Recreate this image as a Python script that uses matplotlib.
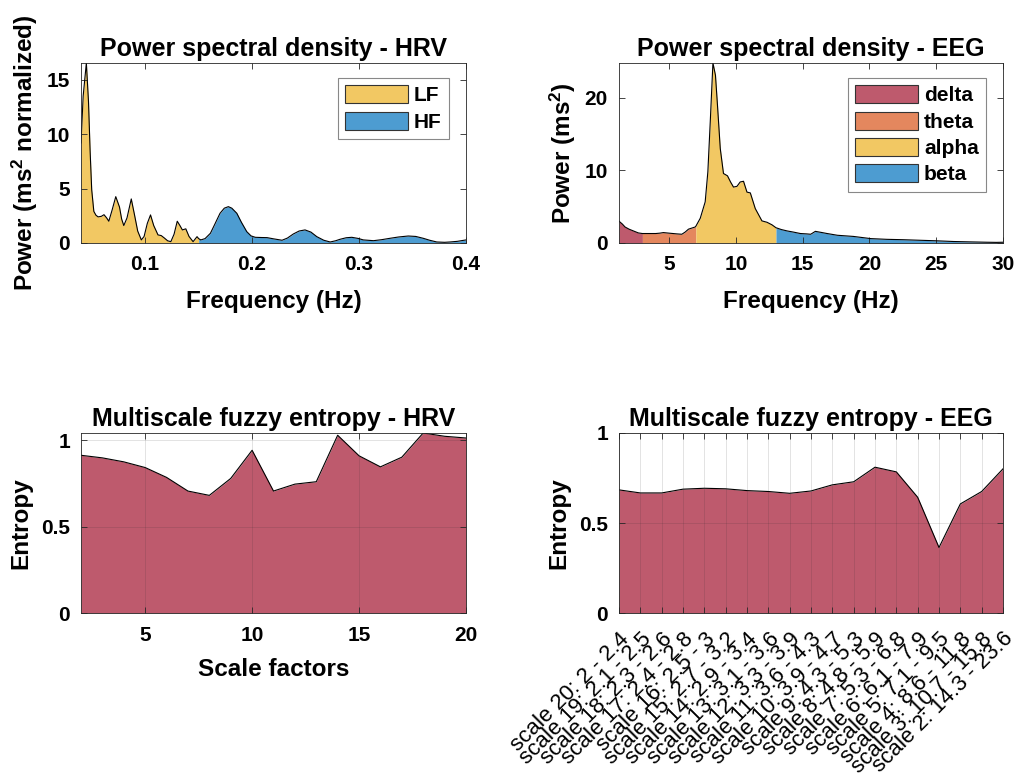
import numpy as np
import matplotlib
matplotlib.use("Agg")
import matplotlib.pyplot as plt
from matplotlib.patches import Patch

plt.rcParams['font.family'] = ['Liberation Sans', 'DejaVu Sans']
plt.rcParams['font.weight'] = 'bold'
plt.rcParams['axes.labelweight'] = 'bold'
plt.rcParams['axes.titleweight'] = 'bold'
plt.rcParams['mathtext.fontset'] = 'custom'
plt.rcParams['mathtext.rm'] = 'Liberation Sans:bold'
plt.rcParams['mathtext.default'] = 'rm'

# HRV power spectrum
hrv_freq = [0.040, 0.042, 0.045, 0.047, 0.0485, 0.050, 0.052, 0.054, 0.056, 0.059,
            0.0615, 0.064, 0.066, 0.069, 0.0725, 0.076, 0.078, 0.080, 0.083, 0.087,
            0.090, 0.093, 0.0964, 0.099, 0.102, 0.105, 0.108, 0.112, 0.115, 0.118,
            0.121, 0.124, 0.127, 0.130, 0.1325, 0.1348, 0.138, 0.141, 0.1448, 0.1485,
            0.150, 0.152, 0.156, 0.161, 0.165, 0.170, 0.174, 0.1778, 0.181, 0.1857,
            0.190, 0.195, 0.199, 0.203, 0.209, 0.214, 0.220, 0.228, 0.233, 0.2386,
            0.244, 0.2495, 0.255, 0.2605, 0.267, 0.273, 0.278, 0.2823, 0.288, 0.2932,
            0.299, 0.304, 0.3135, 0.321, 0.329, 0.337, 0.346, 0.353, 0.360, 0.366,
            0.3727, 0.380, 0.385, 0.392, 0.400]
hrv_power = [9.2, 13.5, 16.56, 13.0, 8.5, 4.9, 2.9, 2.55, 2.4, 2.45,
             2.6, 2.3, 2.0, 3.0, 4.26, 3.3, 2.2, 1.6, 2.3, 4.05,
             2.6, 1.1, 0.28, 0.6, 1.8, 2.58, 1.6, 0.74, 0.68, 0.45,
             0.2, 0.12, 0.8, 2.0, 1.6, 1.2, 1.3, 0.6, 0.12, 0.58,
             0.4, 0.28, 0.4, 0.89, 1.7, 2.73, 3.2, 3.34, 3.2, 2.73,
             1.9, 1.04, 0.65, 0.52, 0.5, 0.49, 0.38, 0.25, 0.45, 0.83,
             1.1, 1.2, 1.0, 0.58, 0.25, 0.09, 0.2, 0.34, 0.48, 0.52,
             0.42, 0.28, 0.21, 0.3, 0.43, 0.55, 0.64, 0.6, 0.43, 0.25,
             0.09, 0.06, 0.09, 0.15, 0.28]
hrv_bands = [('LF', 0.04, 0.15, '#F2C863'), ('HF', 0.15, 0.40, '#4D9CD1')]

# EEG power spectrum
eeg_freq = [1.25, 1.5, 1.7, 2.0, 2.32, 2.7, 3.0, 3.5, 4.0, 4.3,
            4.57, 5.0, 5.58, 5.95, 6.2, 6.45, 6.95, 7.0, 7.33, 7.7,
            7.9, 8.08, 8.28, 8.47, 8.62, 8.83, 9.07, 9.37, 9.6, 9.82,
            10.08, 10.32, 10.57, 10.83, 11.08, 11.45, 11.95, 12.33, 12.7, 13.0,
            13.4, 13.83, 14.3, 14.83, 15.3, 15.6, 15.95, 16.4, 16.83, 17.6,
            18.8, 20.1, 21.3, 22.5, 23.8, 25.0, 26.3, 27.5, 28.8, 29.5, 30.0]
eeg_power = [3.0, 2.6, 2.2, 1.9, 1.66, 1.38, 1.3, 1.3, 1.3, 1.35,
             1.43, 1.35, 1.25, 1.2, 1.5, 1.9, 2.2, 2.3, 3.4, 5.66,
             9.8, 16.7, 24.8, 23.1, 19.0, 13.0, 9.57, 9.25, 8.4, 7.7,
             7.8, 8.4, 8.5, 7.0, 6.9, 4.74, 3.04, 2.85, 2.5, 2.1,
             1.85, 1.66, 1.5, 1.3, 1.25, 1.2, 1.6, 1.45, 1.3, 1.06,
             0.9, 0.6, 0.5, 0.45, 0.37, 0.3, 0.2, 0.15, 0.1, 0.08, 0.1]
eeg_bands = [('delta', 1.25, 3, '#BE5A6D'), ('theta', 3, 7, '#E4875E'),
             ('alpha', 7, 13, '#F2C863'), ('beta', 13, 30, '#4D9CD1')]

# multiscale fuzzy entropy
hrv_scales = list(range(2, 21))
hrv_mfe = [0.913, 0.898, 0.875, 0.842, 0.785, 0.706, 0.681, 0.779, 0.942, 0.706,
           0.746, 0.760, 1.029, 0.910, 0.846, 0.902, 1.042, 1.023, 1.013]

eeg_scale_labels = ['scale 20: 2 - 2.4', 'scale 19: 2.1 - 2.5', 'scale 18: 2.3 - 2.6',
                    'scale 17: 2.4 - 2.8', 'scale 16: 2.5 - 3', 'scale 15: 2.7 - 3.2',
                    'scale 14: 2.9 - 3.4', 'scale 13: 3.1 - 3.6', 'scale 12: 3.3 - 3.9',
                    'scale 11: 3.6 - 4.3', 'scale 10: 3.9 - 4.7', 'scale 9: 4.3 - 5.3',
                    'scale 8: 4.8 - 5.9', 'scale 7: 5.3 - 6.8', 'scale 6: 6.1 - 7.9',
                    'scale 5: 7.1 - 9.5', 'scale 4: 8.6 - 11.8', 'scale 3: 10.7 - 15.8',
                    'scale 2: 14.3 - 23.6']
eeg_mfe = [0.684, 0.667, 0.667, 0.688, 0.693, 0.690, 0.680, 0.675, 0.665, 0.678,
           0.712, 0.729, 0.810, 0.784, 0.643, 0.364, 0.606, 0.675, 0.801]

mfe_color = '#BE5A6D'
TICK = 15
LABEL = 17.5
TITLE = 18


def style_axes(ax):
    ax.tick_params(direction='in', length=4, top=True, right=True,
                   labelsize=TICK, color='#262626', width=0.6)
    ax.tick_params(axis='x', pad=9)
    ax.tick_params(axis='y', pad=8)
    for s in ax.spines.values():
        s.set_color('#262626')
        s.set_linewidth(0.6)


def band_psd(ax, freq, power, bands):
    f = np.array(freq)
    p = np.array(power)
    handles = []
    for name, lo, hi, col in bands:
        m = (f >= lo) & (f <= hi)
        ax.fill_between(f[m], 0, p[m], color=col, lw=0)
        handles.append(Patch(facecolor=col, edgecolor='#333333', lw=0.8, label=name))
    ax.plot(f, p, color='black', lw=0.8)
    return handles


def add_legend(ax, handles):
    leg = ax.legend(handles=handles, loc='upper right', fontsize=TICK, handlelength=3.0,
                    handleheight=0.95, labelspacing=0.3, borderpad=0.35,
                    handletextpad=0.3, borderaxespad=0, fancybox=False,
                    edgecolor='#888888', framealpha=1, bbox_to_anchor=(0.956, 0.917))
    leg.get_frame().set_linewidth(0.8)


fig = plt.figure(figsize=(10.19, 7.75), dpi=100)

# PSD - HRV
ax1 = fig.add_axes([0.0795, 0.6865, 0.3778, 0.2323])
h = band_psd(ax1, hrv_freq, hrv_power, hrv_bands)
ax1.set_xlim(0.04, 0.4)
ax1.set_ylim(0, max(hrv_power))
ax1.set_xticks([0.1, 0.2, 0.3, 0.4])
ax1.set_xticklabels(['0.1', '0.2', '0.3', '0.4'])
ax1.set_yticks([0, 5, 10, 15])
ax1.set_title('Power spectral density - HRV', fontsize=TITLE, pad=5)
ax1.set_xlabel('Frequency (Hz)', fontsize=LABEL, labelpad=11)
ax1.set_ylabel('Power (ms$^2$ normalized)', fontsize=LABEL, labelpad=5)
add_legend(ax1, h)
style_axes(ax1)

# PSD - EEG
ax2 = fig.add_axes([0.6075, 0.6865, 0.3768, 0.2323])
h = band_psd(ax2, eeg_freq, eeg_power, eeg_bands)
ax2.set_xlim(1.25, 30)
ax2.set_ylim(0, max(eeg_power))
ax2.set_xticks([5, 10, 15, 20, 25, 30])
ax2.set_yticks([0, 10, 20])
ax2.set_title('Power spectral density - EEG', fontsize=TITLE, pad=5)
ax2.set_xlabel('Frequency (Hz)', fontsize=LABEL, labelpad=11)
ax2.set_ylabel('Power (ms$^2$)', fontsize=LABEL, labelpad=5)
add_legend(ax2, h)
style_axes(ax2)

# MFE - HRV
ax3 = fig.add_axes([0.0795, 0.209, 0.3778, 0.2323])
ax3.fill_between(hrv_scales, 0, hrv_mfe, color=mfe_color, lw=0)
ax3.plot(hrv_scales, hrv_mfe, color='black', lw=0.8)
ax3.set_xlim(2, 20)
ax3.set_ylim(0, max(hrv_mfe))
ax3.set_xticks([5, 10, 15, 20])
ax3.set_yticks([0, 0.5, 1])
ax3.set_yticklabels(['0', '0.5', '1'])
ax3.set_axisbelow(False)
ax3.grid(True, color='#262626', alpha=0.15, lw=0.6)
ax3.set_title('Multiscale fuzzy entropy - HRV', fontsize=TITLE, pad=5)
ax3.set_xlabel('Scale factors', fontsize=LABEL, labelpad=10)
ax3.set_ylabel('Entropy', fontsize=LABEL, labelpad=6)
style_axes(ax3)

# MFE - EEG
ax4 = fig.add_axes([0.6075, 0.209, 0.3768, 0.2323])
pos = np.arange(1, len(eeg_mfe) + 1)
ax4.fill_between(pos, 0, eeg_mfe, color=mfe_color, lw=0)
ax4.plot(pos, eeg_mfe, color='black', lw=0.8)
ax4.set_xlim(1, len(eeg_mfe))
ax4.set_ylim(0, 1)
ax4.set_xticks(pos)
ax4.set_yticks([0, 0.5, 1])
ax4.set_yticklabels(['0', '0.5', '1'])
ax4.set_axisbelow(False)
ax4.grid(True, color='#262626', alpha=0.15, lw=0.6)
ax4.set_title('Multiscale fuzzy entropy - EEG', fontsize=TITLE, pad=5)
ax4.set_ylabel('Entropy', fontsize=LABEL, labelpad=6)
style_axes(ax4)
ax4.set_xticklabels(eeg_scale_labels, rotation=45, ha='right', va='top',
                    rotation_mode='anchor', fontsize=16, fontweight='normal')
ax4.tick_params(axis='x', pad=11)

fig.savefig('out.png', dpi=100)
